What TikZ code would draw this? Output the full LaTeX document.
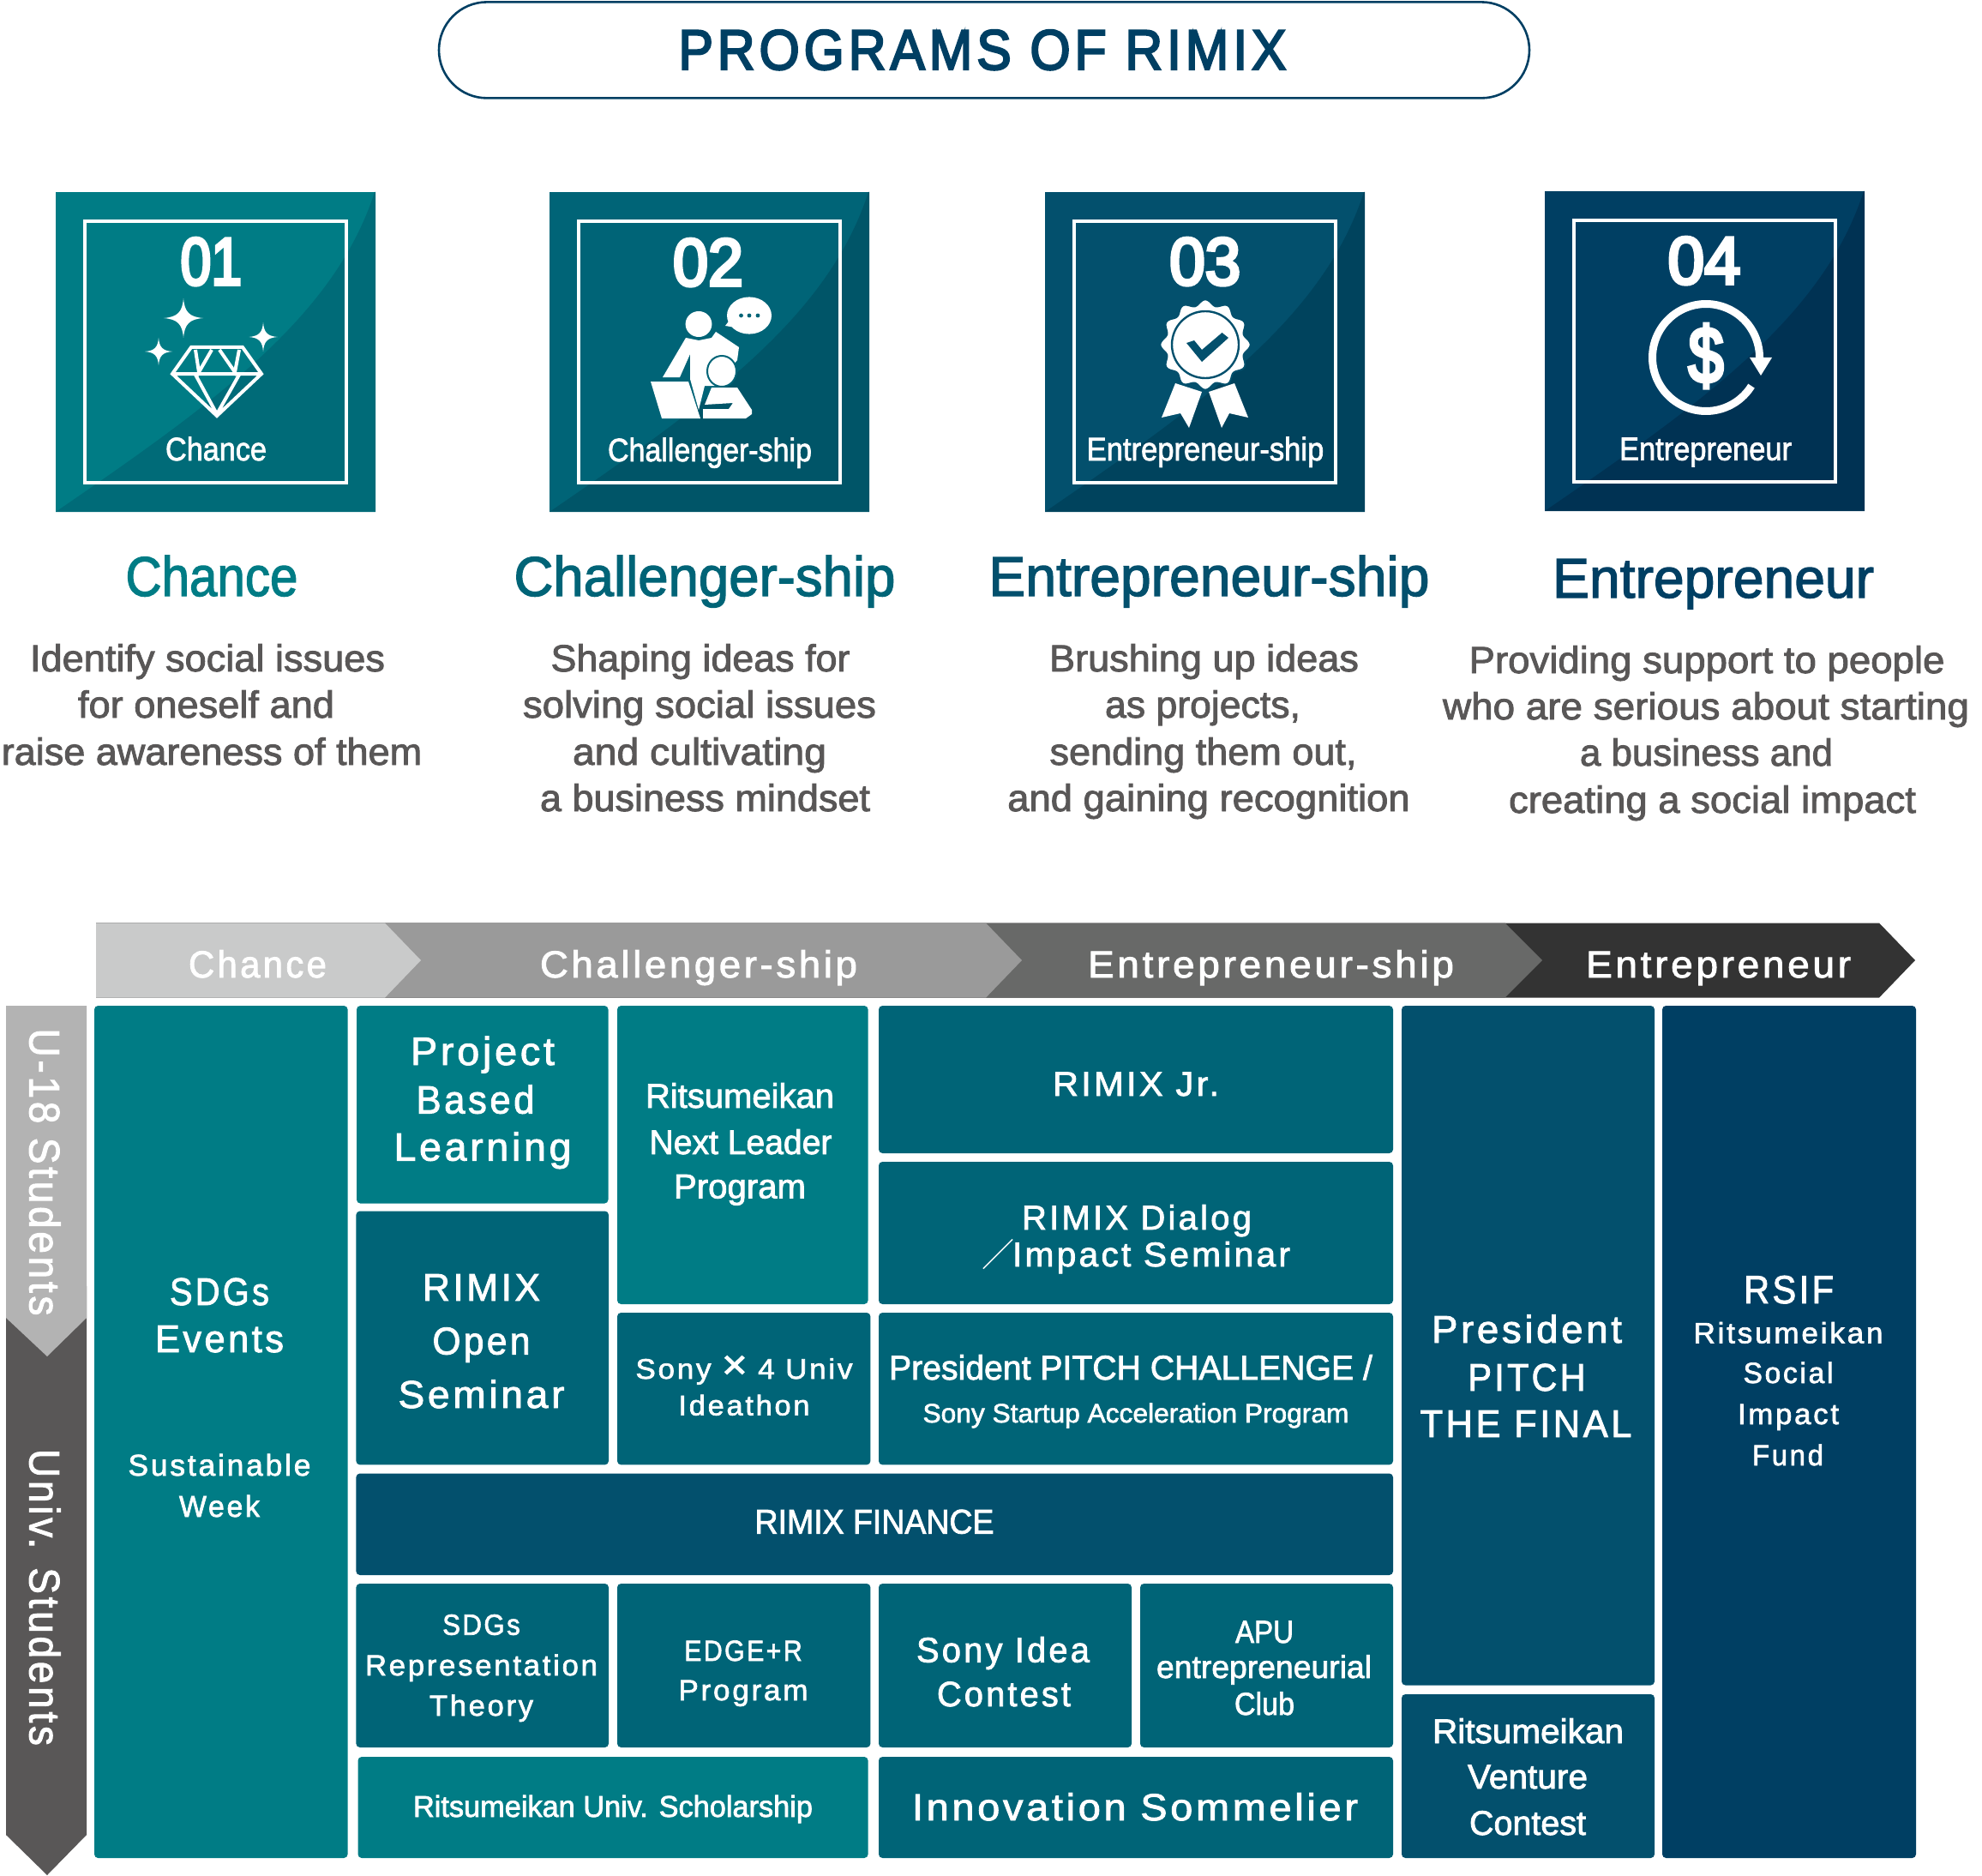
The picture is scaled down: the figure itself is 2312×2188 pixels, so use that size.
\documentclass[tikz,border=0pt]{standalone}
\usepackage{fontspec}
\usepackage{graphicx}
\setmainfont{Liberation Sans}
\newfontfamily\fr[FakeBold=2]{Liberation Sans}
\newfontfamily\fs[FakeBold=2,LetterSpace=8]{Liberation Sans}
\newfontfamily\fb[FakeBold=5]{Liberation Sans}
\newfontfamily\fbs[FakeBold=3.5,LetterSpace=8]{Liberation Sans}
\newfontfamily\cjkf{Noto Sans CJK JP}
\definecolor{cA}{HTML}{007C85}
\definecolor{cAd}{HTML}{006B78}
\definecolor{cB}{HTML}{006477}
\definecolor{cBd}{HTML}{005568}
\definecolor{cC}{HTML}{03506D}
\definecolor{cCd}{HTML}{00435D}
\definecolor{cD}{HTML}{003F63}
\definecolor{cDd}{HTML}{003253}
\definecolor{bodygray}{HTML}{595757}
\definecolor{ch1}{HTML}{C9CACA}
\definecolor{ch2}{HTML}{9A9A9A}
\definecolor{ch3}{HTML}{686968}
\definecolor{ch4}{HTML}{333333}
\definecolor{ar1}{HTML}{B3B3B3}
\newsavebox\fitbox
\newcounter{tl}
% width-fitted line of text: font, size in pt, width in px, text
\newcommand\fitline[4]{\sbox\fitbox{#1\fontsize{#2pt}{#2pt}\selectfont #4}\edef\fitw{\the\wd\fitbox}\pgfmathsetmacro\fitr{0.5*#3/\fitw}\scalebox{\fitr}[1]{\usebox\fitbox}}
\newcommand\tl[7][]{\stepcounter{tl}\node[tltext,#1] (t\arabic{tl}) at (#3,#4) {\fitline{#2}{#5}{#6}{#7}};}
\newcommand\bx[6]{\node[progbox,fill=#6,anchor=north west,minimum width={(#4-#2)*0.5pt},minimum height={(#5-#3)*0.5pt}] (#1) at (#2,#3) {};}
\newcommand\sq[5]{%
 \fill[#4] (#2,#3) rectangle ++(373,373);
 \fill[#5] (#2,#3+373) .. controls (#2+185,#3+246) and (#2+325,#3+146) .. (#2+372,#3) -- (#2+373,#3) -- (#2+373,#3+373) -- cycle;
 \draw[white,line width=2.2pt] (#2+34.2,#3+34.2) rectangle ++(304.6,304.6);}
\newcommand\spark[4]{\fill[white] (#1,#2-#4) .. controls (#1+.06*#3,#2-.3*#4) and (#1+.3*#3,#2-.06*#4) .. (#1+#3,#2) .. controls (#1+.3*#3,#2+.06*#4) and (#1+.06*#3,#2+.3*#4) .. (#1,#2+#4) .. controls (#1-.06*#3,#2+.3*#4) and (#1-.3*#3,#2+.06*#4) .. (#1-#3,#2) .. controls (#1-.3*#3,#2-.06*#4) and (#1-.06*#3,#2-.3*#4) .. cycle;}
\tikzset{tltext/.style={anchor=base,inner sep=0pt,text=white},
 progbox/.style={rounded corners=2.2pt,inner sep=0pt,outer sep=0pt}}
\begin{document}
\begin{tikzpicture}[x=0.5pt,y=-0.5pt]
\useasboundingbox (0,0) rectangle (2312,2188);
% title
\node[draw=cD,line width=1.3pt,rounded corners=28pt,minimum width=636pt,minimum height=56pt,inner sep=0pt] (title) at (1148,58.4) {};
\tl[text=cD]{\fbs}{1146}{81}{33}{709}{PROGRAMS OF RIMIX}
% squares
\sq{s1}{65}{224}{cA}{cAd}
\sq{s2}{641}{224}{cB}{cBd}
\sq{s3}{1219}{224}{cC}{cCd}
\sq{s4}{1802}{223}{cD}{cDd}
\tl{\fb}{246.3}{332}{39}{71.5}{01}
\tl{\fb}{826}{333}{39}{82}{02}
\tl{\fb}{1405.7}{332}{39}{83}{03}
\tl{\fb}{1988}{331}{39}{85}{04}
\tl{\fr}{252}{537}{19}{118}{Chance}
\tl{\fr}{828}{538}{19}{238}{Challenger-ship}
\tl{\fr}{1406}{537}{19}{276.6}{Entrepreneur-ship}
\tl{\fr}{1989.5}{536.7}{19}{201}{Entrepreneur}
% diamond icon
\draw[white,line width=2pt,line join=miter] (223,405)--(283,405)--(305,436)--(253,485)--(201,436)--cycle (201,436)--(305,436)
 (228,408)--(232,434)--(247,408) (256,408)--(274,434)--(279,408) (228,437)--(253,483)--(279,437);
\spark{214}{371}{23}{23}
\spark{307}{393}{16.5}{17}
\spark{185}{410}{16}{16}
% person icon
\fill[white] (874,368) ellipse[x radius=13pt,y radius=10.8pt];
\fill[white] (852,372)--(846,380)--(858,382)--cycle;
\fill[cB] (864.5,368) circle[radius=1.2pt] (874,368) circle[radius=1.2pt] (884,368) circle[radius=1.2pt];
\fill[white] (815,378) ellipse[x radius=7.7pt,y radius=7.5pt];
\fill[white] (800,394)--(773,440)--(793,440)--(805,413)--(805,442)--(815,478)--(822,450)--(835,450)--(860,420)--(862,405)--(835,387)--(830,394)--(815,397)--cycle;
\fill[white,draw=cB,line width=1pt] (842,433) ellipse[x radius=8.5pt,y radius=9pt];
\fill[white] (759,445)--(803,445)--(817,488)--(772,488)--cycle;
\fill[white] (830,452)--(860,452)--(877,478)--(877,483)--(870,488)--(820,488)--(820,477)--(850,477)--(855,470)--(822,472)--cycle;
% ribbon icon
\fill[white] (1371,447)--(1355,487)--(1377,482)--(1387,499)--(1402,457)--cycle;
\fill[white] (1440,447)--(1456,487)--(1434,482)--(1425,499)--(1410,457)--cycle;
\filldraw[fill=white,draw=cC,line width=1pt] plot[domain=0:360,samples=145,smooth] ({1406+49.5*cos(\x)+3.2*cos(12*\x)*cos(\x)},{402+49.5*sin(\x)+3.2*cos(12*\x)*sin(\x)}) -- cycle;
\draw[cC,line width=1.2pt] (1406,402) circle[radius=19.5pt];
\fill[cC] (1384,400)--(1393,397)--(1402,408)--(1425.5,388)--(1433,394)--(1402,422)--cycle;
% dollar icon
\draw[white,line width=4.5pt] plot[domain=32:360,samples=80,smooth] ({1990+62.5*cos(\x)},{417+62.5*sin(\x)});
\fill[white] (2041,417)--(2067,417)--(2054,438)--cycle;
\tl{\fb}{1990}{446}{46}{41}{\$}
% headings
\tl[text=cA]{\fr}{247}{695}{32.6}{201}{Chance}
\tl[text=cB]{\fr}{822}{695}{32.6}{445}{Challenger-ship}
\tl[text=cC]{\fr}{1410.5}{695}{32.6}{514}{Entrepreneur-ship}
\tl[text=cD]{\fr}{1998.6}{697}{32.6}{375}{Entrepreneur}
% body
\tikzset{tltext/.append style={text=bodygray}}
\tl{\fr}{242}{783}{22}{414}{Identify social issues}
\tl{\fr}{240.5}{837}{22}{299}{for oneself and}
\tl{\fr}{247}{892}{22}{490.5}{raise awareness of them}
\tl{\fr}{817}{783}{22}{349}{Shaping ideas for}
\tl{\fr}{816}{837}{22}{412}{solving social issues}
\tl{\fr}{816}{892}{22}{296}{and cultivating}
\tl{\fr}{822.5}{946}{22}{385}{a business mindset}
\tl{\fr}{1404.5}{783}{22}{361}{Brushing up ideas}
\tl{\fr}{1403}{837}{22}{228}{as projects,}
\tl{\fr}{1403.5}{892}{22}{358}{sending them out,}
\tl{\fr}{1410}{946}{22}{469.5}{and gaining recognition}
\tl{\fr}{1991}{785}{22}{555}{Providing support to people}
\tl{\fr}{1990}{839}{22}{614}{who are serious about starting}
\tl{\fr}{1990.5}{893}{22}{295}{a business and}
\tl{\fr}{1997.5}{948}{22}{475}{creating a social impact}
\tikzset{tltext/.append style={text=white}}
% chevrons
\fill[ch4] (112,1076.5)--(2192,1076.5)--(2234,1120)--(2192,1163.6)--(112,1163.6)--cycle;
\fill[ch3] (112,1076.5)--(1755.5,1076.5)--(1799,1120)--(1755.5,1163.6)--(112,1163.6)--cycle;
\fill[ch2] (112,1076.5)--(1150,1076.5)--(1192,1120)--(1150,1163.6)--(112,1163.6)--cycle;
\fill[ch1] (112,1076.5)--(449,1076.5)--(491,1120)--(449,1163.6)--(112,1163.6)--cycle;
\tl{\fs}{300.5}{1140}{22}{161}{Chance}
\tl{\fs}{815}{1140}{22}{370}{Challenger-ship}
\tl{\fs}{1482.5}{1140}{22}{427}{Entrepreneur-ship}
\tl{\fs}{2004.6}{1140}{22}{309}{Entrepreneur}
% left arrow
\fill[bodygray] (7,1500)--(101,1500)--(101,2140)--(55,2187)--(7,2140)--cycle;
\fill[ar1] (7,1173)--(101,1173)--(101,1537)--(55,1582)--(7,1537)--cycle;
\tl[rotate=-90]{\fs}{34.5}{1367}{25}{335}{U-18 Students}
\tl[rotate=-90]{\fs}{34.5}{1863}{25}{346}{Univ. Students}
% boxes
\bx{sdgs}{110}{1173}{405.6}{2167}{cA}
\bx{pbl}{416}{1173}{709.5}{1403.6}{cA}
\bx{rnl}{720}{1173}{1012.6}{1521}{cA}
\bx{open}{415.4}{1412.5}{710}{1708.4}{cB}
\bx{sony4}{720}{1531}{1015.4}{1708.4}{cB}
\bx{jr}{1025}{1173}{1625}{1345}{cB}
\bx{dialog}{1025}{1355}{1625}{1521}{cB}
\bx{pitch}{1025}{1531}{1625}{1708.4}{cB}
\bx{finance}{415.4}{1718.5}{1625}{1837}{cC}
\bx{repr}{415.4}{1847}{710}{2038}{cB}
\bx{edge}{720}{1847}{1015.4}{2038}{cB}
\bx{idea}{1025}{1847}{1320}{2038}{cB}
\bx{apu}{1330}{1847}{1625}{2038}{cB}
\bx{schol}{417.5}{2049}{1012.6}{2167}{cA}
\bx{somm}{1025}{2049}{1625}{2167}{cB}
\bx{final}{1635}{1173}{1930}{1965.5}{cC}
\bx{venture}{1635}{1976}{1930}{2167}{cC}
\bx{rsif}{1939}{1173}{2235}{2167}{cD}
% box texts
\tl{\fs}{256}{1522}{22.5}{116}{SDGs}
\tl{\fs}{256}{1577}{22.5}{150}{Events}
\tl{\fs}{256}{1721}{17.5}{213}{Sustainable}
\tl{\fs}{256}{1769}{17.5}{94}{Week}
\tl{\fs}{563}{1242}{23}{168}{Project}
\tl{\fs}{554.5}{1298.6}{23}{138}{Based}
\tl{\fs}{563}{1353.6}{23}{207}{Learning}
\tl{\fr}{863}{1292}{20}{220}{Ritsumeikan}
\tl{\fr}{864}{1346}{20}{213}{Next Leader}
\tl{\fr}{863}{1397.5}{20}{154}{Program}
\tl{\fs}{561.5}{1517}{22.5}{137}{RIMIX}
\tl{\fs}{561.5}{1579.6}{22.5}{114}{Open}
\tl{\fs}{561.5}{1642}{22.5}{194}{Seminar}
\tl{\fs}{868}{1608}{16.5}{253}{Sony {\fontsize{24pt}{24pt}\selectfont ×} 4 Univ}
\tl{\fs}{868}{1650.6}{16.5}{153}{Ideathon}
\tl{\fs}{1325}{1278}{20}{194}{RIMIX Jr.}
\tl{\fs}{1326}{1434}{20}{268}{RIMIX Dialog}
\stepcounter{tl}\node[tltext] (t\arabic{tl}) at (1325,1477) {{\cjkf\fontsize{19pt}{19pt}\selectfont ／}\kern-1pt\fitline{\fs}{20}{324}{Impact Seminar}};
\tl{\fr}{1319}{1609}{20}{564}{President PITCH CHALLENGE /}
\tl{\fr}{1325}{1659}{15.5}{497}{Sony Startup Acceleration Program}
\tl{\fr}{1020}{1788.6}{20}{279}{RIMIX FINANCE}
\tl{\fs}{561.5}{1906.7}{17}{90.5}{SDGs}
\tl{\fs}{561.5}{1954}{17}{271}{Representation}
\tl{\fs}{561.5}{2001}{17}{121}{Theory}
\tl{\fs}{867}{1937}{17}{137.5}{EDGE+R}
\tl{\fs}{867}{1983}{17}{151}{Program}
\tl{\fs}{1170}{1938.6}{20.5}{202}{Sony Idea}
\tl{\fs}{1171}{1990}{20.5}{156}{Contest}
\tl{\fr}{1475}{1916}{18.5}{68}{APU}
\tl{\fr}{1474.5}{1957}{18.5}{251}{entrepreneurial}
\tl{\fr}{1475}{2000}{18.5}{70}{Club}
\tl{\fr}{715}{2119}{17.5}{466}{Ritsumeikan Univ. Scholarship}
\tl{\fs}{1324}{2123}{22}{520}{Innovation Sommelier}
\tl{\fs}{1781}{1566}{22.5}{222}{President}
\tl{\fs}{1781}{1622}{22.5}{137}{PITCH}
\tl{\fs}{1780}{1676}{22.5}{247}{THE FINAL}
\tl{\fr}{1782.5}{2033}{20}{223}{Ritsumeikan}
\tl{\fr}{1782}{2086}{20}{140}{Venture}
\tl{\fr}{1782}{2140}{20}{136}{Contest}
\tl{\fs}{2086.5}{1520}{23}{105}{RSIF}
\tl{\fs}{2086}{1566.5}{17}{221}{Ritsumeikan}
\tl{\fs}{2086}{1613}{17}{105}{Social}
\tl{\fs}{2086}{1661}{17}{118}{Impact}
\tl{\fs}{2085.5}{1709}{17}{83}{Fund}
\end{tikzpicture}
\end{document}
